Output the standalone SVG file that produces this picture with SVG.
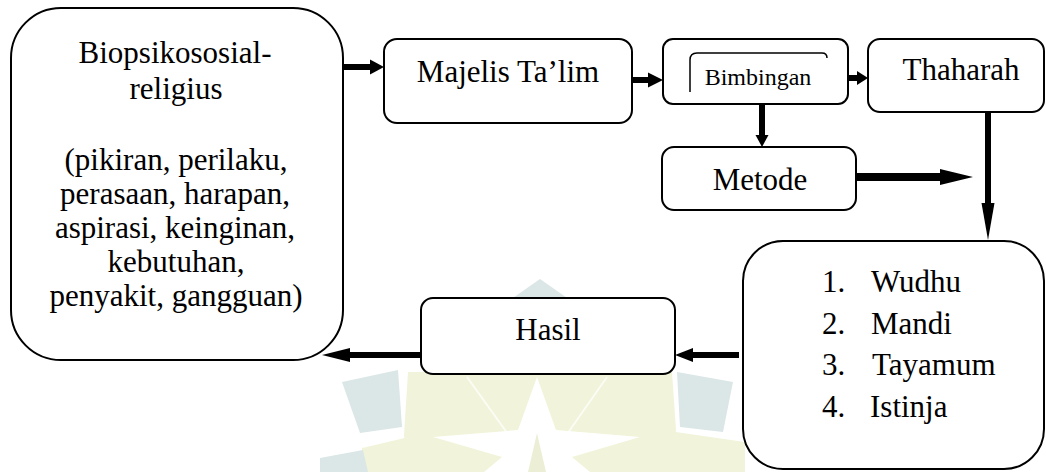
<svg xmlns="http://www.w3.org/2000/svg" width="1046" height="472" viewBox="0 0 1046 472">
<style>
.box{fill:#fff;stroke:#000;stroke-width:2}
.t{font-family:"Liberation Serif","Times New Roman",serif;font-size:31px;fill:#000}
.c{text-anchor:middle}
.ln{stroke:#000;stroke-width:6;fill:none}
.hd{fill:#000}
.wt{fill:#dbe6e6}
.wy{fill:#f1f4da}
.ws{stroke:#fff;stroke-width:2;fill:none;opacity:0.7}
</style>
<rect width="1046" height="472" fill="#fff"/>
<g id="watermark">
<polygon class="wt" points="510,300 540,279 570,300 570,390 510,390"/>
<polygon class="wy" points="408,372 672,372 676,430 745,440 745,472 362,472 362,445 404,435"/>
<polygon class="wt" points="342,382 398,370 402,427 360,433"/>
<polygon class="wt" points="677,372 733,382 723,432 680,427"/>
<polygon class="wt" points="320,458 363,450 368,472 320,472"/>
<path class="ws" d="M467,377 L510,437 M607,377 L565,437"/>
<path d="M404,436 L362,446 M676,430 L745,440" stroke="#fff" stroke-width="4" fill="none"/>
<polygon fill="#fff" points="537,377 556,430 640,437 572,457 590,472 484,472 502,457 433,437 518,430"/>
<polygon fill="#ecefd6" points="537,433 546,472 528,472"/>
</g>
<g id="node-biopsikososial">
<rect class="box" x="11" y="8" width="332" height="352" rx="50" ry="50"/>
<text class="t c" x="175" y="63">Biopsikososial-</text>
<text class="t c" x="176" y="99">religius</text>
<text class="t c" x="176" y="170">(pikiran, perilaku,</text>
<text class="t c" x="175" y="204">perasaan, harapan,</text>
<text class="t c" x="175" y="238">aspirasi, keinginan,</text>
<text class="t c" x="176" y="272">kebutuhan,</text>
<text class="t c" x="176" y="306">penyakit, gangguan)</text>
</g>
<g id="node-majelis">
<rect class="box" x="384" y="39" width="248" height="84" rx="13" ry="13"/>
<text class="t c" x="508" y="82">Majelis Ta’lim</text>
</g>
<g id="node-bimbingan">
<rect class="box" x="663" y="39" width="185" height="65" rx="10" ry="10"/>
<path d="M690,92 V60 Q690,53 697,53 H822 Q827,53 827,58" fill="none" stroke="#000" stroke-width="1.5"/>
<text class="t c" x="758" y="85" style="font-size:24px">Bimbingan</text>
</g>
<g id="node-thaharah">
<rect class="box" x="868" y="39" width="176" height="73" rx="12" ry="12"/>
<text class="t c" x="961" y="80">Thaharah</text>
</g>
<g id="node-metode">
<rect class="box" x="662" y="147" width="194" height="63" rx="12" ry="12"/>
<text class="t c" x="760" y="190">Metode</text>
</g>
<g id="node-list">
<rect class="box" x="743" y="241" width="301" height="228" rx="40" ry="40"/>
<text class="t"><tspan x="822" y="292">1.</tspan><tspan x="871" y="292">Wudhu</tspan></text>
<text class="t"><tspan x="822" y="334">2.</tspan><tspan x="871" y="334">Mandi</tspan></text>
<text class="t"><tspan x="822" y="375">3.</tspan><tspan x="872" y="375">Tayamum</tspan></text>
<text class="t"><tspan x="822" y="417">4.</tspan><tspan x="870" y="417">Istinja</tspan></text>
</g>
<g id="node-hasil">
<rect class="box" x="421" y="298" width="254" height="76" rx="12" ry="12"/>
<text class="t c" x="548" y="340">Hasil</text>
</g>
<g id="connectors">
<line class="ln" x1="343" y1="67" x2="371" y2="67"/>
<polygon class="hd" points="370,59.5 384,67 370,74.5"/>
<line class="ln" x1="632" y1="80" x2="649" y2="80"/>
<polygon class="hd" points="648,72.5 663,80 648,87.5"/>
<line class="ln" x1="848" y1="78" x2="858" y2="78"/>
<polygon class="hd" points="857,71 868,78 857,85"/>
<line class="ln" x1="762" y1="104" x2="762" y2="136"/>
<polygon class="hd" points="755.5,135 762,147 768.5,135"/>
<line class="ln" x1="856" y1="177" x2="941" y2="177" style="stroke-width:8"/>
<polygon class="hd" points="940,169 973,177 940,185"/>
<line class="ln" x1="988" y1="112" x2="988" y2="204"/>
<polygon class="hd" points="981.5,203 988,240 994.5,203"/>
<line class="ln" x1="739" y1="355" x2="692" y2="355"/>
<polygon class="hd" points="693,348 675,355 693,362"/>
<line class="ln" x1="421" y1="355" x2="349" y2="355"/>
<polygon class="hd" points="350,348 322,355 350,362"/>
</g>
</svg>
